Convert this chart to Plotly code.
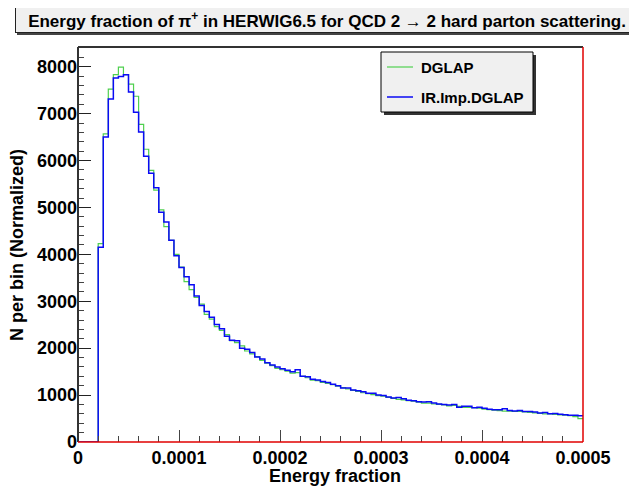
import plotly.graph_objects as go

# ---------------- data ----------------
n_bins = 100
x_min, x_max = 0.0, 0.0005
bin_edges = [x_min + i * (x_max - x_min) / n_bins for i in range(n_bins + 1)]

dglap = [0, 0, 0, 0, 4230, 6570, 7520, 7830, 7990, 7830,
         7630, 7370, 6770, 6240, 5790, 5370, 4950, 4590, 4300, 4000,
         3730, 3420, 3250, 3080, 2940, 2720, 2620, 2460, 2380, 2290,
         2160, 2120, 2050, 1940, 1880, 1820, 1740, 1680, 1630, 1570,
         1540, 1510, 1470, 1480, 1400, 1370, 1320, 1310, 1270, 1250,
         1220, 1190, 1160, 1130, 1100, 1080, 1050, 1030, 1010, 990,
         980, 950, 930, 910, 900, 880, 870, 850, 830, 830,
         810, 800, 790, 770, 780, 760, 740, 740, 730, 720,
         700, 690, 680, 670, 660, 660, 650, 650, 640, 630,
         620, 610, 600, 600, 590, 580, 570, 560, 540, 500]

ir_imp_dglap = [0, 0, 0, 0, 4150, 6500, 7310, 7760, 7790, 7830,
                7460, 7030, 6610, 6090, 5730, 5420, 4900, 4690, 4300, 3970,
                3720, 3520, 3350, 3110, 2910, 2780, 2660, 2505, 2415, 2255,
                2170, 2160, 2000, 1975, 1910, 1810, 1770, 1690, 1640, 1600,
                1560, 1530, 1500, 1540, 1400, 1390, 1340, 1320, 1290, 1270,
                1230, 1200, 1150, 1150, 1110, 1090, 1070, 1040, 1040, 1000,
                990, 960, 940, 950, 920, 890, 880, 860, 850, 860,
                830, 810, 800, 790, 800, 740, 760, 760, 730, 740,
                720, 700, 690, 690, 710, 670, 660, 670, 650, 650,
                640, 620, 630, 600, 610, 590, 580, 570, 570, 560]

x_tick_vals = [0, 0.0001, 0.0002, 0.0003, 0.0004, 0.0005]
x_tick_text = ["0", "0.0001", "0.0002", "0.0003", "0.0004", "0.0005"]
y_tick_vals = [0, 1000, 2000, 3000, 4000, 5000, 6000, 7000, 8000]
y_tick_text = ["0", "1000", "2000", "3000", "4000", "5000", "6000", "7000", "8000"]

series_names = ["DGLAP", "IR.Imp.DGLAP"]
title_text = "Energy fraction of π<sup>+</sup> in HERWIG6.5 for QCD 2 → 2 hard parton scattering."
x_title = "Energy fraction"
y_title = "N per bin (Normalized)"

# ---------------- layout helpers ----------------
OFF = 8  # page body margin
W, H = 637 - OFF, 487 - OFF
L, R, T, B = 70, 54, 39, 45
PW, PH = W - L - R, H - T - B


def px(xp):
    """page x pixel -> paper coordinate"""
    return (xp - OFF - L) / PW


def py(yp):
    """page y pixel -> paper coordinate"""
    return (H - B - (yp - OFF)) / PH


FONT = "Liberation Sans, Arial, Helvetica, sans-serif"
GREEN = "#4fd04f"
BLUE = "#0a0af5"

fig = go.Figure()
fig.add_trace(go.Scatter(x=bin_edges, y=dglap + [dglap[-1]], mode="lines",
                         line=dict(color=GREEN, width=1.2, shape="hv"),
                         name=series_names[0], showlegend=False))
fig.add_trace(go.Scatter(x=bin_edges, y=ir_imp_dglap + [ir_imp_dglap[-1]], mode="lines",
                         line=dict(color=BLUE, width=1.5, shape="hv"),
                         name=series_names[1], showlegend=False))

axis_font = dict(family=FONT, size=18, color="black", weight="bold")

fig.update_xaxes(range=[x_min, x_max], tickvals=x_tick_vals, ticktext=x_tick_text,
                 ticks="inside", ticklen=12, tickwidth=1, tickcolor="#444",
                 minor=dict(ticks="inside", ticklen=6, dtick=0.00002, tickcolor="#444", tickwidth=1),
                 ticklabelstandoff=3,
                 showgrid=False, zeroline=False, showline=False, tickfont=axis_font)
fig.update_yaxes(range=[0, 8420], tickvals=y_tick_vals, ticktext=y_tick_text,
                 ticks="inside", ticklen=13, tickwidth=1, tickcolor="#222",
                 minor=dict(ticks="inside", ticklen=6, dtick=200, tickcolor="#444", tickwidth=1),
                 showgrid=False, zeroline=False, showline=False, tickfont=axis_font)

shapes = [
    # frame
    dict(type="line", xref="paper", yref="paper", x0=0, x1=0, y0=0, y1=1,
         line=dict(color="#333", width=2), layer="above"),
    dict(type="line", xref="paper", yref="paper", x0=0, x1=1, y0=1, y1=1,
         line=dict(color="#333", width=2), layer="above"),
    dict(type="line", xref="paper", yref="paper", x0=0, x1=1, y0=0, y1=0,
         line=dict(color="#e00000", width=1.5), layer="above"),
    dict(type="line", xref="paper", yref="paper", x0=1, x1=1, y0=0, y1=1,
         line=dict(color="#e00000", width=1.5), layer="above"),
    # title shadow
    dict(type="rect", xref="paper", yref="paper", x0=px(17), x1=px(642), y0=py(35), y1=py(9),
         fillcolor="#444", line=dict(width=0), layer="above"),
    # legend shadow + box
    dict(type="rect", xref="paper", yref="paper", x0=px(384), x1=px(536), y0=py(115), y1=py(55),
         fillcolor="#333", line=dict(width=0), layer="above"),
    dict(type="rect", xref="paper", yref="paper", x0=px(381), x1=px(533), y0=py(112), y1=py(52),
         fillcolor="#f0f0f0", line=dict(color="black", width=1), layer="above"),
    dict(type="line", xref="paper", yref="paper", x0=px(387), x1=px(413), y0=py(67), y1=py(67),
         line=dict(color=GREEN, width=1.2), layer="above"),
    dict(type="line", xref="paper", yref="paper", x0=px(387), x1=px(413), y0=py(97), y1=py(97),
         line=dict(color=BLUE, width=1.5), layer="above"),
]

annotations = [
    dict(text=title_text, xref="paper", yref="paper", x=px(15), y=py(7),
         xanchor="left", yanchor="top", showarrow=False, width=622, height=24,
         bgcolor="#f0f0f0", bordercolor="#222", borderwidth=1, borderpad=0,
         font=dict(family=FONT, size=17, color="black", weight="bold")),
    dict(text=series_names[0], xref="paper", yref="paper", x=px(419), y=py(67),
         xanchor="left", yanchor="middle", showarrow=False,
         font=dict(family=FONT, size=15, color="black", weight="bold")),
    dict(text=series_names[1], xref="paper", yref="paper", x=px(419), y=py(97),
         xanchor="left", yanchor="middle", showarrow=False,
         font=dict(family=FONT, size=15, color="black", weight="bold")),
    dict(text=x_title, xref="paper", yref="paper", x=px(335), y=py(476),
         xanchor="center", yanchor="middle", showarrow=False,
         font=dict(family=FONT, size=18, color="black", weight="bold")),
    dict(text=y_title, xref="paper", yref="paper", x=px(17), y=py(245),
         xanchor="center", yanchor="middle", showarrow=False, textangle=-90,
         font=dict(family=FONT, size=18, color="black", weight="bold")),
]

fig.update_layout(width=W, height=H, autosize=False,
                  margin=dict(l=L, r=R, t=T, b=B, pad=0),
                  paper_bgcolor="white", plot_bgcolor="white",
                  shapes=shapes, annotations=annotations, showlegend=False)

fig.write_html("out.html")
